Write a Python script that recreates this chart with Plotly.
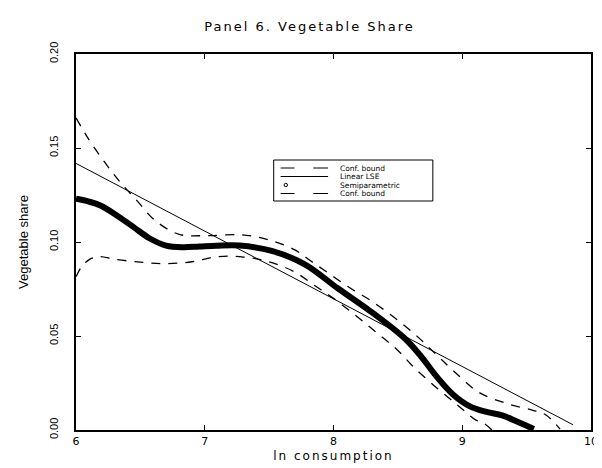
import plotly.graph_objects as go

# ---- data ----
semi_x = [6.00, 6.10, 6.19, 6.32, 6.45, 6.57, 6.70, 6.83, 6.96, 7.09, 7.27, 7.52,
          7.78, 8.03, 8.29, 8.55, 8.67, 8.80, 8.93, 9.06, 9.19, 9.31, 9.42, 9.50, 9.556]
semi_y = [0.1230, 0.1215, 0.1194, 0.1140, 0.1078, 0.1020, 0.0981, 0.0972, 0.0976, 0.0980,
          0.0981, 0.0953, 0.0880, 0.0755, 0.0630, 0.0489, 0.0400, 0.0285, 0.0188, 0.0126,
          0.0096, 0.0078, 0.0046, 0.0022, 0.0005]

lse_x = [6.00, 9.86]
lse_y = [0.1418, 0.0028]

upper_x = [6.00, 6.10, 6.22, 6.34, 6.47, 6.61, 6.80, 7.03, 7.29, 7.50, 7.70, 7.83, 7.98,
           8.13, 8.29, 8.47, 8.65, 8.80, 8.95, 9.13, 9.36, 9.55, 9.65, 9.76]
upper_y = [0.1660, 0.1545, 0.1427, 0.1321, 0.1223, 0.1117, 0.1041, 0.1034, 0.1038, 0.1011,
           0.0958, 0.0896, 0.0825, 0.0755, 0.0688, 0.0600, 0.0498, 0.0400, 0.0303, 0.0200,
           0.0138, 0.0105, 0.0080, 0.0005]

lower_x = [6.00, 6.04, 6.10, 6.18, 6.30, 6.50, 6.70, 6.90, 7.10, 7.30, 7.50, 7.70, 7.85,
           8.00, 8.18, 8.34, 8.49, 8.63, 8.80, 8.96, 9.10, 9.17, 9.23]
lower_y = [0.0815, 0.0865, 0.0905, 0.0922, 0.0908, 0.0893, 0.0885, 0.0895, 0.0922, 0.0920,
           0.0895, 0.0840, 0.0770, 0.0700, 0.0605, 0.0515, 0.0430, 0.0330, 0.0225, 0.0135,
           0.0055, 0.0035, 0.0000]

x_ticks = [6, 7, 8, 9, 10]
y_ticks = [0.00, 0.05, 0.10, 0.15, 0.20]
legend_labels = ["Conf. bound", "Linear LSE", "Semiparametric", "Conf. bound"]

title_text = "Panel 6. Vegetable Share"
x_title = "ln consumption"
y_title = "Vegetable share"

WIDE = "DejaVu Sans"
NARROW = "Liberation Sans"

fig = go.Figure()
dash = "9px,8px"
fig.add_trace(go.Scatter(x=upper_x, y=upper_y, mode="lines", line=dict(color="black", width=1.3, dash=dash, shape="spline"), name=legend_labels[0]))
fig.add_trace(go.Scatter(x=lse_x, y=lse_y, mode="lines", line=dict(color="black", width=1), name=legend_labels[1]))
fig.add_trace(go.Scatter(x=semi_x, y=semi_y, mode="lines", line=dict(color="black", width=6, shape="spline"), name=legend_labels[2]))
fig.add_trace(go.Scatter(x=lower_x, y=lower_y, mode="lines", line=dict(color="black", width=1.3, dash=dash, shape="spline"), name=legend_labels[3]))

# plot area in pixels
L, R, T, B = 68, 589, 46, 422
def px(xp):
    return (xp - L) / (R - L)
def py(yp):
    return (B - yp) / (B - T)

shapes = []
annotations = []
# legend box
shapes.append(dict(type="rect", xref="paper", yref="paper", x0=px(268), x1=px(429), y0=py(193), y1=py(152),
                   line=dict(color="black", width=1), fillcolor="white", layer="above"))
rows = [160, 168.5, 177, 185.5]
for i, (lab, yy) in enumerate(zip(legend_labels, rows)):
    if i in (0, 3):
        for a, b in [(275, 289), (308, 323)]:
            shapes.append(dict(type="line", xref="paper", yref="paper", x0=px(a), x1=px(b), y0=py(yy), y1=py(yy),
                               line=dict(color="black", width=1), layer="above"))
    elif i == 1:
        shapes.append(dict(type="line", xref="paper", yref="paper", x0=px(275), x1=px(323), y0=py(yy), y1=py(yy),
                           line=dict(color="black", width=1), layer="above"))
    else:
        shapes.append(dict(type="circle", xref="paper", yref="paper", x0=px(278.5), x1=px(282), y0=py(yy + 1.7), y1=py(yy - 1.7),
                           line=dict(color="black", width=1), layer="above"))
    annotations.append(dict(xref="paper", yref="paper", x=px(333), y=py(yy), text=lab, showarrow=False,
                            xanchor="left", yanchor="middle", align="left",
                            font=dict(family=WIDE, size=7.5, color="black")))

fig.update_layout(
    width=602, height=468,
    margin=dict(l=L, r=602 - R, t=T, b=468 - B, pad=0),
    paper_bgcolor="white", plot_bgcolor="white",
    showlegend=False,
    title=dict(text=title_text, x=px(329), xanchor="center", y=1 - 18 / 468, yanchor="middle",
               font=dict(family=WIDE, size=13, color="black")),
    shapes=shapes, annotations=annotations,
)
fig.update_xaxes(range=[6, 10], tickvals=x_ticks, ticktext=[str(v) for v in x_ticks],
                 showline=True, linecolor="black", linewidth=2, mirror="ticks",
                 ticks="inside", ticklen=5, tickwidth=1, tickcolor="black", showgrid=False, zeroline=False,
                 tickfont=dict(family=WIDE, size=11, color="black"),
                 title=dict(text=x_title, font=dict(family=WIDE, size=12, color="black"), standoff=4))
fig.update_yaxes(range=[0, 0.2], tickvals=y_ticks, ticktext=["%.2f" % v for v in y_ticks],
                 showline=True, linecolor="black", linewidth=2, mirror="ticks",
                 ticks="inside", ticklen=5, tickwidth=1, tickcolor="black", showgrid=False, zeroline=False,
                 tickangle=-90, ticklabelstandoff=12,
                 tickfont=dict(family=NARROW, size=11, color="black"),
                 title=dict(text=y_title, font=dict(family=NARROW, size=13, color="black"), standoff=16))

post = """
var s = document.querySelectorAll('.gtitle, .xtitle');
s.forEach(function(e){ e.style.letterSpacing = '2px'; });
"""
fig.write_html("out.html", post_script=post)
